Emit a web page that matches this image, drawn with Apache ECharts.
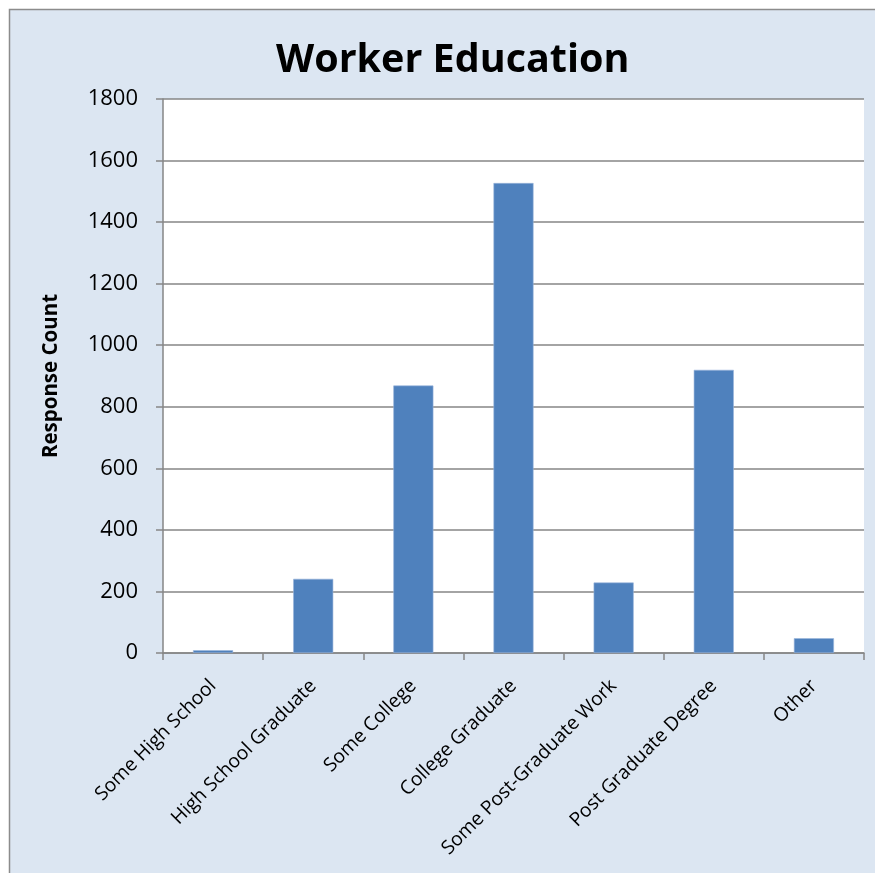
<!DOCTYPE html>
<html><head><meta charset="utf-8">
<script src="https://cdn.jsdelivr.net/npm/echarts@6/dist/echarts.min.js"></script>
<style>html,body{margin:0;padding:0;background:#fff}#c{width:875px;height:873px}</style>
</head><body><div id="c"></div>
<script>
const categories = ["Some High School","High School Graduate","Some College","College Graduate","Some Post-Graduate Work","Post Graduate Degree","Other"];
const responseCounts = [9, 241, 869, 1527, 229, 920, 48];
const yTicks = [0,200,400,600,800,1000,1200,1400,1600,1800];
const FONT = "'Open Sans', 'Noto Sans', sans-serif";
const chart = echarts.init(document.getElementById('c'), null, {renderer:'canvas'});
chart.setOption({
  backgroundColor: '#ffffff',
  animation: false,
  graphic: [{
    type: 'rect', z: -10, silent: true,
    shape: {x: 9.5, y: 9.5, width: 900, height: 900},
    style: {fill: '#dce6f2', stroke: '#8c8c8c', lineWidth: 1.5}
  }],
  title: {
    text: 'Worker Education', left: 271, top: 36,
    textStyle: {fontFamily: FONT, fontWeight: 'bold', fontSize: 39.5, color: '#000'}
  },
  grid: {left: 163, right: 11, top: 99, bottom: 220, containLabel: false, show: true, backgroundColor: '#ffffff', borderWidth: 0},
  xAxis: {
    type: 'category', data: categories,
    axisLine: {lineStyle: {color: '#868686', width: 1.5}},
    axisTick: {show: true, alignWithLabel: false, length: 7, lineStyle: {color: '#868686', width: 1.5}},
    axisLabel: {rotate: 45, interval: 0, fontFamily: FONT, fontSize: 19.3, color: '#000', margin: 30}
  },
  yAxis: {
    type: 'value', min: yTicks[0], max: yTicks[yTicks.length-1], interval: 200,
    name: 'Response Count', nameLocation: 'middle', nameGap: 101, nameRotate: 90,
    nameTextStyle: {fontFamily: FONT, fontWeight: 'bold', fontSize: 20.5, color: '#000'},
    axisLine: {show: true, lineStyle: {color: '#868686', width: 1.5}},
    axisTick: {show: true, length: 7, lineStyle: {color: '#868686', width: 1.5}},
    axisLabel: {fontFamily: FONT, fontSize: 22, color: '#000', margin: 25, formatter: v => String(v)},
    splitLine: {show: true, lineStyle: {color: '#868686', width: 1.5}}
  },
  series: [{
    type: 'bar', data: responseCounts, barWidth: '40%',
    itemStyle: {color: '#4f81bd', borderColor: '#9ab6dc', borderWidth: 0.6}
  }]
});
</script></body></html>
